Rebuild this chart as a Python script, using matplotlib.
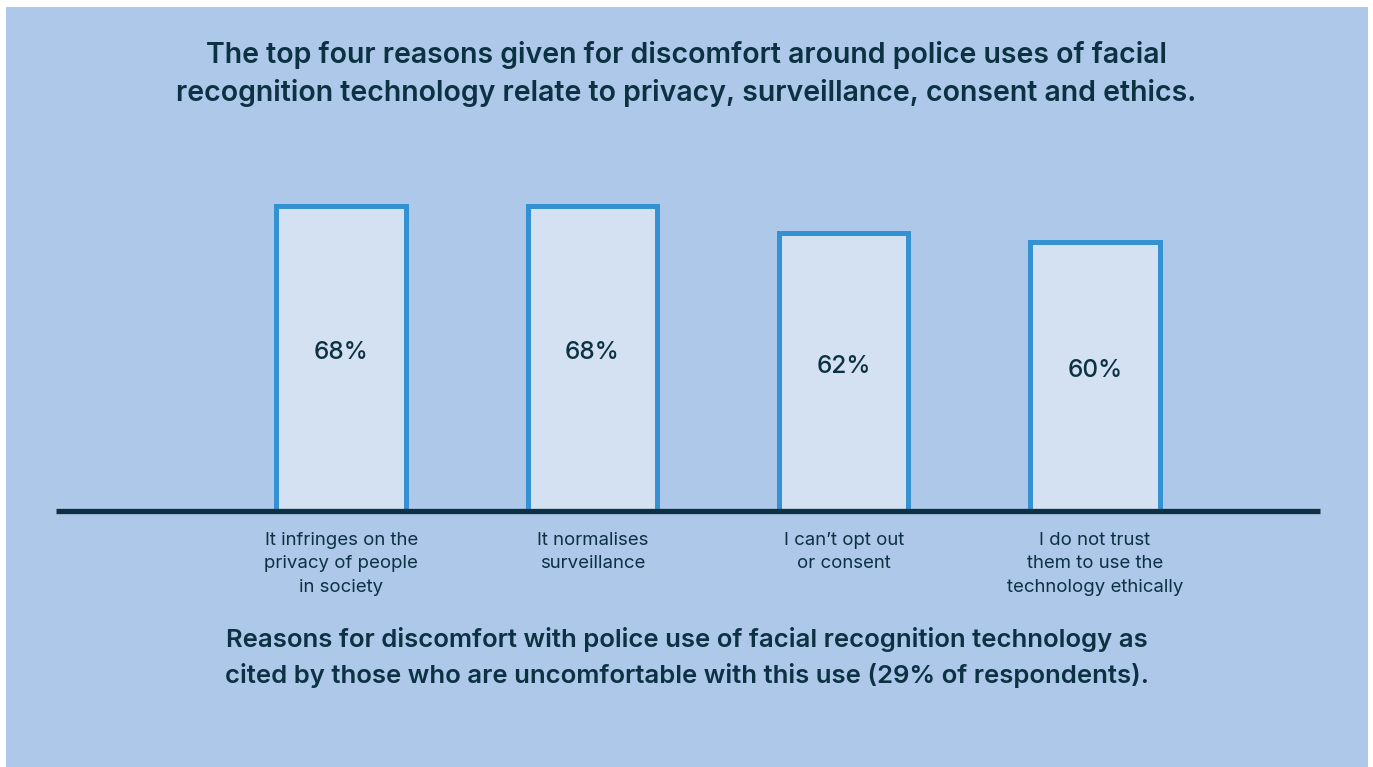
import matplotlib.pyplot as plt
from matplotlib.patches import Rectangle

categories = ['It infringes on the\nprivacy of people\nin society',
              'It normalises\nsurveillance',
              'I can\u2019t opt out\nor consent',
              'I do not trust\nthem to use the\ntechnology ethically']
values = [68, 68, 62, 60]

title = ('The top four reasons given for discomfort around police uses of facial\n'
         'recognition technology relate to privacy, surveillance, consent and ethics.')
subtitle = ('Reasons for discomfort with police use of facial recognition technology as\n'
            'cited by those who are uncomfortable with this use (29% of respondents).')

bg = '#adc8e8'
dark = '#0c3143'
edge = '#3492d2'
fill = '#d4e1f2'

plt.rcParams['font.family'] = ['Inter', 'DejaVu Sans']

W, H = 1373, 767
fig = plt.figure(figsize=(W / 100, H / 100), dpi=100)
fig.patch.set_facecolor('white')
fig.add_artist(Rectangle((6 / W, 0), (1368 - 6) / W, (H - 7) / H,
                         transform=fig.transFigure, facecolor=bg, edgecolor='none', zorder=0))

# axes placed in pixel terms: baseline y=511, from x=56 to x=1320
px_per_unit = 4.49
base_y = 511
top_y = base_y - 80 * px_per_unit
ax = fig.add_axes([56 / W, (H - base_y) / H, (1320 - 56) / W, (base_y - top_y) / H])
ax.set_facecolor('none')
ax.set_xlim(-1.135, 3.896)
ax.set_ylim(0, 80)
for s in ax.spines.values():
    s.set_visible(False)
ax.set_xticks([])
ax.set_yticks([])

x = range(len(values))
ax.bar(x, values, width=0.515, color=fill, edgecolor=edge, linewidth=3.6, zorder=2)
ax.axhline(0, color=dark, linewidth=3.8, zorder=3, clip_on=False, solid_capstyle='butt')

for i, v in enumerate(values):
    ax.text(i, v / 2 + 1.2, f'{v}%', ha='center', va='center', fontsize=17.5,
            fontweight='medium', color=dark, zorder=4)
    ax.text(i, -4.6, categories[i], ha='center', va='top', fontsize=13.4,
            color=dark, linespacing=1.5, zorder=4)

fig.text(686 / W, 1 - 74 / H, title, ha='center', va='center', fontsize=20.5,
         fontweight='semibold', color=dark, linespacing=1.45)
fig.text(687 / W, 1 - 657 / H, subtitle, ha='center', va='center', fontsize=18.5,
         fontweight='semibold', color=dark, linespacing=1.55)

fig.savefig('out.png', dpi=100, facecolor=fig.get_facecolor())
